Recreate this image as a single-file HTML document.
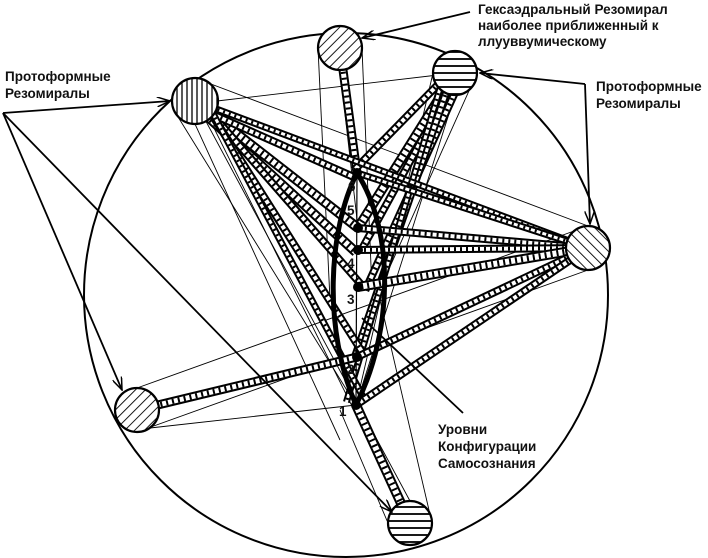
<!DOCTYPE html>
<html><head><meta charset="utf-8">
<style>
html,body{margin:0;padding:0;background:#fff;}
svg{display:block;}
text{font-family:"Liberation Sans",sans-serif;font-weight:bold;font-size:13.5px;fill:#111;}
</style></head>
<body>
<svg id="s" width="708" height="558" viewBox="0 0 708 558" xmlns="http://www.w3.org/2000/svg">
<defs>
<pattern id="hd" width="7" height="7" patternUnits="userSpaceOnUse" patternTransform="rotate(45)"><rect width="7" height="7" fill="#fff"/><line x1="0" y1="0" x2="0" y2="7" stroke="#000" stroke-width="1.8"/></pattern>
<pattern id="hd2" width="7" height="7" patternUnits="userSpaceOnUse" patternTransform="rotate(-45)"><rect width="7" height="7" fill="#fff"/><line x1="0" y1="0" x2="0" y2="7" stroke="#000" stroke-width="1.8"/></pattern>
<pattern id="hh" width="7" height="7" patternUnits="userSpaceOnUse"><rect width="7" height="7" fill="#fff"/><line x1="0" y1="3" x2="7" y2="3" stroke="#000" stroke-width="1.8"/></pattern>
<pattern id="hv" width="5" height="5" patternUnits="userSpaceOnUse"><rect width="5" height="5" fill="#fff"/><line x1="2" y1="0" x2="2" y2="5" stroke="#000" stroke-width="1.3"/></pattern>
<marker id="ar" markerWidth="14" markerHeight="10" refX="13" refY="5" orient="auto" markerUnits="userSpaceOnUse"><path d="M0,0 L13,5 L0,10" fill="none" stroke="#000" stroke-width="1.5"/></marker>
</defs>
<circle cx="346" cy="295" r="262" fill="none" stroke="#000" stroke-width="2"/>
<g id="thin" stroke="#000" stroke-width="0.9" fill="none"></g>
<g id="bars"></g>
<g id="curves" fill="none" stroke="#000" stroke-width="5">
<path d="M357,173 C328,230 323,330 356,405"/>
<path d="M357,173 C394,230 394,330 356,405"/>
<line x1="357" y1="173" x2="356" y2="405" stroke-width="1.2"/>
</g>
<g id="dots"></g>
<g id="circles" stroke="#000" stroke-width="2.2">
<circle cx="340" cy="48" r="22" fill="url(#hd)"/>
<circle cx="455" cy="73" r="22" fill="url(#hh)"/>
<circle cx="195" cy="101" r="23" fill="url(#hv)"/>
<circle cx="588" cy="248" r="22" fill="url(#hd2)"/>
<circle cx="137" cy="410" r="22" fill="url(#hd)"/>
<circle cx="410" cy="523" r="22" fill="url(#hh)"/>
</g>
<g stroke="#000" stroke-width="1.8" fill="none">
<line x1="3" y1="113" x2="170" y2="101" marker-end="url(#ar)"/>
<line x1="3" y1="113" x2="122" y2="390" marker-end="url(#ar)"/>
<line x1="3" y1="113" x2="392" y2="512" marker-end="url(#ar)"/>
<line x1="585" y1="84" x2="480" y2="73" marker-end="url(#ar)"/>
<line x1="585" y1="84" x2="590" y2="224" marker-end="url(#ar)"/>
<line x1="470" y1="12" x2="362" y2="38" marker-end="url(#ar)"/>
<line x1="463" y1="413" x2="362" y2="318"/>
</g>
<g>
<text x="348" y="191" font-size="12">6</text>
<text x="347" y="215" font-size="12">5</text>
<text x="347" y="268" font-size="12">4</text>
<text x="347" y="304" font-size="12">3</text>
<text x="347" y="374" font-size="12">2</text>
<text x="339" y="416" font-size="12">1</text>
<text x="478" y="14">Гексаэдральный Резомирал</text>
<text x="478" y="30">наиболее приближенный к</text>
<text x="478" y="46">ллууввумическому</text>
<text x="5" y="81">Протоформные</text>
<text x="5" y="98">Резомиралы</text>
<text x="596" y="91">Протоформные</text>
<text x="596" y="108">Резомиралы</text>
<text x="438" y="434">Уровни</text>
<text x="438" y="451">Конфигурации</text>
<text x="438" y="468">Самосознания</text>
</g>
</svg>
<script>
var NS="http://www.w3.org/2000/svg";
var C={T:[340,48],TR:[455,73],L:[195,101],R:[588,248],LL:[137,410],B:[410,523]};
var P={1:[356,405],2:[357,357],3:[358,287],4:[358,250],5:[358,228],6:[357,173]};
function off(a,b,o){var dx=b[0]-a[0],dy=b[1]-a[1],l=Math.hypot(dx,dy);return [[a[0]-dy/l*o,a[1]+dx/l*o],[b[0]-dy/l*o,b[1]+dx/l*o]];}
function ln(g,a,b,w,c,d){var e=document.createElementNS(NS,"line");e.setAttribute("x1",a[0]);e.setAttribute("y1",a[1]);e.setAttribute("x2",b[0]);e.setAttribute("y2",b[1]);e.setAttribute("stroke",c||"#000");e.setAttribute("stroke-width",w);if(d)e.setAttribute("stroke-dasharray",d);g.appendChild(e);}
var bars=document.getElementById("bars"),thin=document.getElementById("thin");
function bar(a,b,o,w){o=o||0;w=w||8;var s=off(a,b,o);ln(bars,s[0],s[1],w);ln(bars,s[0],s[1],w-4,"#fff");ln(bars,s[0],s[1],w-4,"#000","2 4");}
function t(a,b){ln(thin,a,b,0.9);}
t([318,48],[330,300]);t([362,48],[372,290]);
t([433,73],[356,405]);t([477,73],[375,300]);
t([195,78],[588,226]);t([175,112],[356,405]);t([210,120],[410,523]);
t([588,270],[137,432]);t([137,388],[588,226]);t([150,428],[356,405]);
t([388,523],[340,410]);t([432,523],[380,300]);t([588,248],[356,405]);
t([195,101],[410,501]);t([340,70],[358,228]);t([455,95],[356,405]);
t([217,101],[455,73]);t([195,124],[340,440]);
bar(C.T,P[6],0,9);
bar(C.TR,P[5],0,10);bar(C.TR,P[6],4);bar(C.TR,P[4],-3);bar(C.TR,P[3],-8);bar(C.TR,P[2],2);bar(C.TR,P[1],10,7);
bar(C.L,P[5],0,10);bar(C.L,P[4],3,10);bar(C.L,P[3],-4);bar(C.L,P[2],-7);bar(C.L,P[6],5);bar(C.L,P[1],-10,7);bar(C.L,C.R,0,7);
bar(C.R,P[5],0);bar(C.R,P[4],0);bar(C.R,P[3],0,10);bar(C.R,P[2],0);bar(C.R,P[1],0);bar(C.R,P[6],0,7);
bar(C.LL,P[2],0,9);
bar(C.B,P[1],0,10);
var dots=document.getElementById("dots");
for(var k in P){var c=document.createElementNS(NS,"circle");c.setAttribute("cx",P[k][0]);c.setAttribute("cy",P[k][1]);c.setAttribute("r",5);c.setAttribute("fill","#000");dots.appendChild(c);}
</script>
</body></html>
